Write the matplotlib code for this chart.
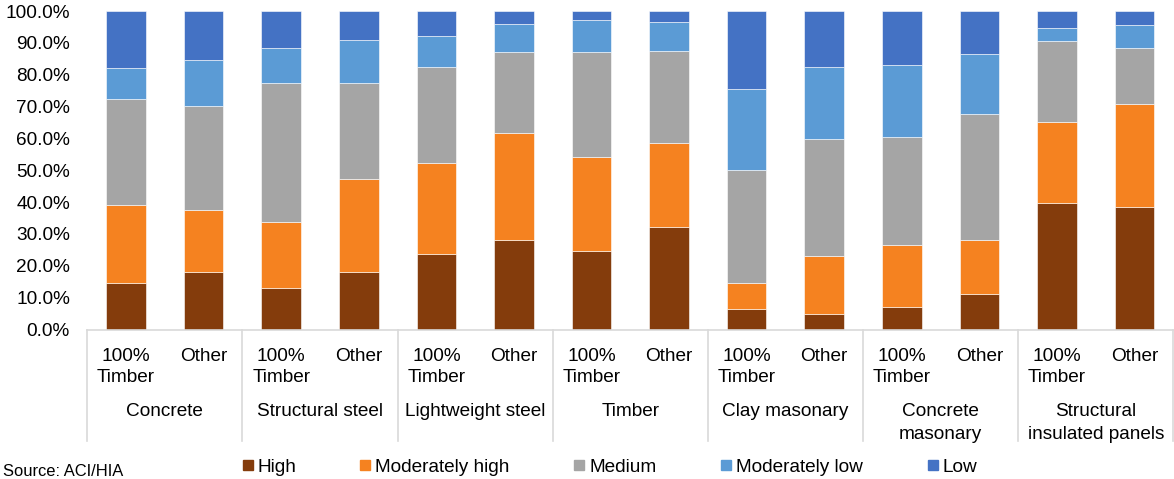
import matplotlib
matplotlib.use("Agg")
import matplotlib.pyplot as plt
import numpy as np
from matplotlib.transforms import blended_transform_factory
from matplotlib.patches import Rectangle
from matplotlib.lines import Line2D

# ---- data ----
groups = ["Concrete", "Structural steel", "Lightweight steel", "Timber",
          "Clay masonary", "Concrete\nmasonary", "Structural\ninsulated panels"]
sub_labels = ["100%\nTimber", "Other"]
series_names = ["High", "Moderately high", "Medium", "Moderately low", "Low"]

high          = [14.6, 18.0, 13.1, 18.0, 23.6, 28.2, 24.6, 32.2, 6.4, 4.9, 7.0, 11.0, 39.7, 38.6]
moderately_hi = [24.6, 19.6, 20.6, 29.2, 28.6, 33.5, 29.7, 26.5, 8.2, 18.2, 19.5, 17.2, 25.5, 32.2]
medium        = [33.1, 32.7, 43.7, 30.2, 30.2, 25.3, 32.7, 28.6, 35.6, 36.6, 33.9, 39.6, 25.4, 17.7]
moderately_lo = [9.7, 14.2, 11.0, 13.5, 9.7, 8.9, 10.1, 9.1, 25.2, 22.7, 22.5, 18.7, 4.1, 7.1]
low           = [18.0, 15.5, 11.6, 9.1, 7.9, 4.1, 2.9, 3.6, 24.6, 17.6, 17.1, 13.5, 5.3, 4.4]

colors = ["#843C0C", "#F58220", "#A5A5A5", "#5B9BD5", "#4472C4"]

# ---- figure ----
W, H = 1174, 479
fig = plt.figure(figsize=(W / 100, H / 100), dpi=100)
plt.rcParams["font.family"] = ["Liberation Sans", "DejaVu Sans"]
FS = 13.7

def fx(px):
    return px / W

def fy(py):
    return 1 - py / H

ax_left, ax_right = 87.3, 1173.3
y0_px, y100_px = 329.5, 11.0
ax = fig.add_axes([fx(ax_left), fy(y0_px), (ax_right - ax_left) / W, (y0_px - y100_px) / H])

series = [high, moderately_hi, medium, moderately_lo, low]
n = len(high)
x = np.arange(n)
bottom = np.zeros(n)
for name, vals, c in zip(series_names, series, colors):
    vals = np.array(vals)
    ax.bar(x, vals, 0.51, bottom=bottom, color=c, edgecolor="white",
           linewidth=0.4, label=name, zorder=2)
    bottom += vals

ax.set_xlim(-0.5, n - 0.5)
ax.set_ylim(0, 100)
ax.set_yticks(np.arange(0, 101, 10))
ax.set_yticklabels([f"{v:.1f}%" for v in np.arange(0, 101, 10)], fontsize=FS, color="#000000")
ax.tick_params(axis="y", length=0, pad=12.5)
ax.set_xticks([])
for s in ["top", "right", "left"]:
    ax.spines[s].set_visible(False)
ax.spines["bottom"].set_color("#D9D9D9")
ax.spines["bottom"].set_linewidth(1.2)

tr = blended_transform_factory(ax.transData, fig.transFigure)

# sub-category labels
for i in range(n):
    lab = sub_labels[i % 2].split("\n")
    ax.text(i, fy(360.7), lab[0], transform=tr, ha="center", va="baseline", fontsize=FS)
    if len(lab) > 1:
        ax.text(i, fy(382.3), lab[1], transform=tr, ha="center", va="baseline", fontsize=FS)

# group labels
for g, name in enumerate(groups):
    cx = 2 * g + 0.5
    lines = name.split("\n")
    ax.text(cx, fy(416.0), lines[0], transform=tr, ha="center", va="baseline", fontsize=FS)
    if len(lines) > 1:
        ax.text(cx, fy(439.3), lines[1], transform=tr, ha="center", va="baseline", fontsize=FS)

# group separators
for g in range(len(groups) + 1):
    xs = 2 * g - 0.5
    ln = Line2D([xs, xs], [fy(330), fy(440.7)], transform=tr, color="#D9D9D9",
                linewidth=1.2, clip_on=False)
    fig.add_artist(ln)

# legend (manual, Excel-like)
sq_x = [243.3, 360.0, 574.0, 721.0, 928.3]
txt_x = [257.7, 375.0, 589.3, 736.0, 942.7]
for name, c, sx, tx in zip(series_names, colors, sq_x, txt_x):
    fig.patches.append(Rectangle((fx(sx), fy(470)), 10 / W, 10 / H,
                                 transform=fig.transFigure, color=c))
    fig.text(fx(tx), fy(471.7), name, ha="left", va="baseline", fontsize=FS)

fig.text(fx(3.3), fy(476), "Source: ACI/HIA", ha="left", va="baseline", fontsize=11.9)

fig.savefig("out.png", dpi=100)
